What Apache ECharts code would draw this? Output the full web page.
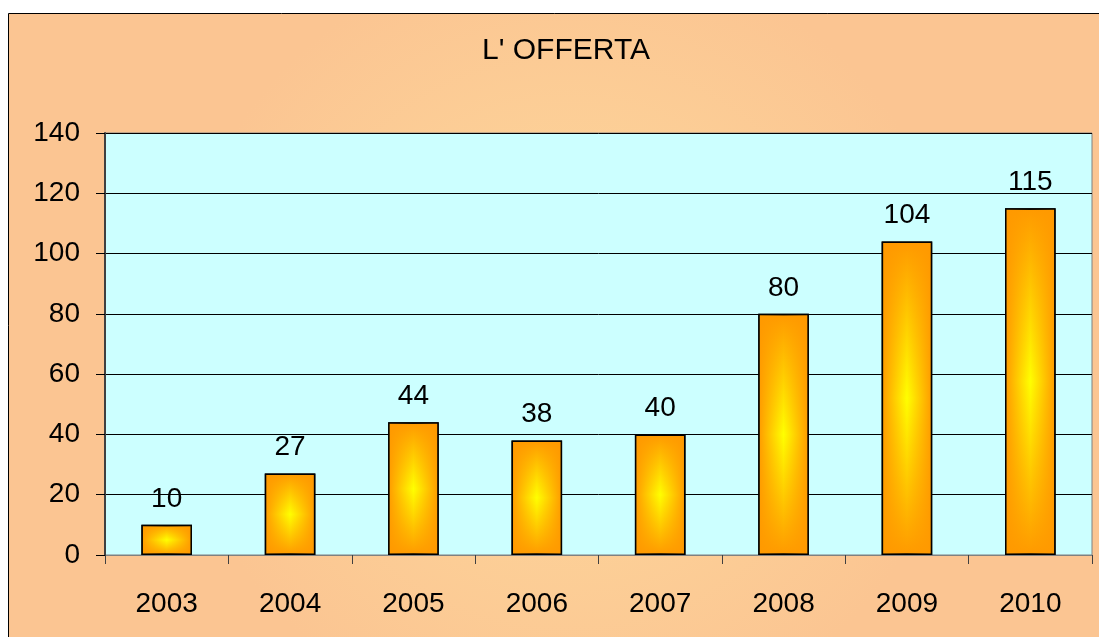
<!DOCTYPE html>
<html>
<head>
<meta charset="utf-8">
<script src="https://cdn.jsdelivr.net/npm/echarts@6/dist/echarts.min.js"></script>
<style>
  html, body { margin: 0; padding: 0; background: #fff; }
  #main { width: 1099px; height: 637px; }
</style>
</head>
<body>
<div id="main"></div>
<script>
// dati
var anni = ['2003', '2004', '2005', '2006', '2007', '2008', '2009', '2010'];
var offerta = [10, 27, 44, 38, 40, 80, 104, 115];
var yTicks = [0, 20, 40, 60, 80, 100, 120, 140];

(function(){
    var myChart = echarts.init(document.getElementById('main'));
    var font = 'Liberation Sans, Arial, sans-serif';
    var option = {
        animation: false,
        graphic: [{
            type: 'rect',
            z: -10,
            shape: { x: 8.5, y: 13.5, width: 1120, height: 660 },
            style: {
                fill: new echarts.graphic.RadialGradient(0.5, 0.5, 0.6, [
                    { offset: 0, color: '#FEDA9C' },
                    { offset: 1, color: '#FBC592' }
                ]),
                stroke: '#000',
                lineWidth: 1
            }
        }],
        title: {
            text: "L' OFFERTA",
            left: 561,
            textAlign: 'center',
            top: 31,
            textStyle: { fontFamily: font, fontSize: 30, fontWeight: 'normal', color: '#000' }
        },
        grid: {
            left: 105,
            top: 133,
            right: 7,
            bottom: 82,
            show: true,
            backgroundColor: '#CCFFFF',
            borderColor: '#808080',
            borderWidth: 1
        },
        xAxis: {
            type: 'category',
            data: anni,
            axisLine: { lineStyle: { color: '#808080', width: 1 } },
            axisTick: { show: true, length: 9, lineStyle: { color: '#404040' } },
            axisLabel: { fontFamily: font, fontSize: 28, color: '#000', margin: 35 }
        },
        yAxis: {
            type: 'value',
            min: yTicks[0],
            max: yTicks[yTicks.length - 1],
            interval: 20,
            axisLine: { show: true, lineStyle: { color: '#404040', width: 2 } },
            axisTick: { show: true, length: 9, lineStyle: { color: '#000' } },
            axisLabel: { fontFamily: font, fontSize: 28, color: '#000', margin: 25 },
            splitLine: { lineStyle: { color: '#000', width: 1 } }
        },
        series: [
            {
                type: 'bar',
                data: offerta,
                barWidth: '41%',
                z: 2,
                itemStyle: {
                    color: new echarts.graphic.LinearGradient(0, 0, 0, 1, [
                        { offset: 0, color: '#FF9900' },
                        { offset: 0.5, color: '#FFFF00' },
                        { offset: 1, color: '#FF9900' }
                    ]),
                    borderColor: '#000',
                    borderWidth: 1.5
                },
                label: {
                    show: true,
                    position: 'top',
                    distance: 12,
                    fontFamily: font,
                    fontSize: 28,
                    color: '#000'
                }
            },
            {
                // sfumatura laterale sovrapposta
                type: 'bar',
                data: offerta,
                barWidth: '41%',
                barGap: '-100%',
                z: 3,
                silent: true,
                itemStyle: {
                    color: new echarts.graphic.LinearGradient(0, 0, 1, 0, [
                        { offset: 0, color: 'rgba(255,153,0,1)' },
                        { offset: 0.5, color: 'rgba(255,153,0,0)' },
                        { offset: 1, color: 'rgba(255,153,0,1)' }
                    ]),
                    borderColor: '#000',
                    borderWidth: 1.5
                }
            }
        ]
    };
    myChart.setOption(option);
    window.addEventListener('resize', function(){
        myChart.resize();
    });
})();
</script>
</body>
</html>
